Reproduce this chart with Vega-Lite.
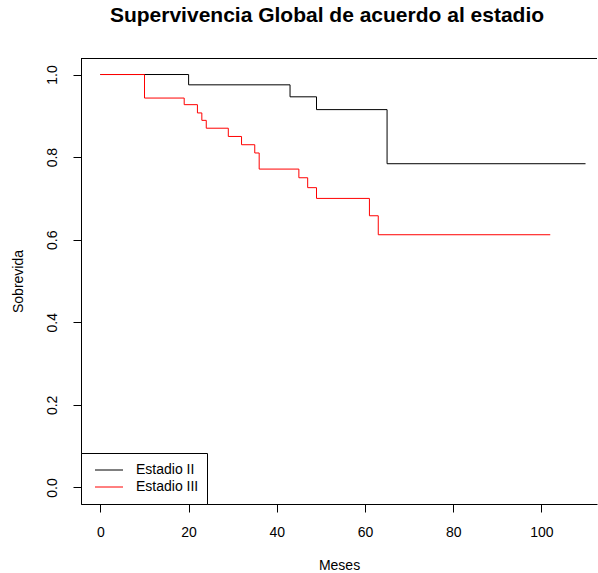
{
  "$schema": "https://vega.github.io/schema/vega-lite/v6.json",
  "autosize": "none",
  "padding": {"left": 81, "top": 58, "right": 1, "bottom": 69},
  "width": 516,
  "height": 446,
  "background": "white",
  "title": {
    "text": "Supervivencia Global de acuerdo al estadio",
    "font": "Liberation Sans",
    "fontSize": 21,
    "fontWeight": "bold",
    "color": "black",
    "anchor": "middle",
    "dx": -12,
    "offset": 32
  },
  "config": {
    "view": {"stroke": null},
    "font": "Liberation Sans",
    "axis": {
      "grid": false,
      "domainColor": "black",
      "domainWidth": 1,
      "tickColor": "black",
      "tickSize": 8,
      "labelColor": "black",
      "labelFont": "Liberation Sans",
      "labelFontSize": 14,
      "titleFont": "Liberation Sans",
      "titleFontSize": 14,
      "titleFontWeight": "normal",
      "titleColor": "black"
    }
  },
  "data": {
    "values": [
      {"mes": 0, "sobrevida": 1.0, "estadio": "Estadio II"},
      {"mes": 20, "sobrevida": 0.975, "estadio": "Estadio II"},
      {"mes": 43, "sobrevida": 0.946, "estadio": "Estadio II"},
      {"mes": 49, "sobrevida": 0.915, "estadio": "Estadio II"},
      {"mes": 65, "sobrevida": 0.784, "estadio": "Estadio II"},
      {"mes": 110, "sobrevida": 0.784, "estadio": "Estadio II"},
      {"mes": 0, "sobrevida": 1.0, "estadio": "Estadio III"},
      {"mes": 10, "sobrevida": 0.943, "estadio": "Estadio III"},
      {"mes": 19, "sobrevida": 0.927, "estadio": "Estadio III"},
      {"mes": 22, "sobrevida": 0.907, "estadio": "Estadio III"},
      {"mes": 23, "sobrevida": 0.889, "estadio": "Estadio III"},
      {"mes": 24, "sobrevida": 0.870, "estadio": "Estadio III"},
      {"mes": 29, "sobrevida": 0.850, "estadio": "Estadio III"},
      {"mes": 32, "sobrevida": 0.830, "estadio": "Estadio III"},
      {"mes": 35, "sobrevida": 0.810, "estadio": "Estadio III"},
      {"mes": 36, "sobrevida": 0.771, "estadio": "Estadio III"},
      {"mes": 45, "sobrevida": 0.750, "estadio": "Estadio III"},
      {"mes": 47, "sobrevida": 0.726, "estadio": "Estadio III"},
      {"mes": 49, "sobrevida": 0.700, "estadio": "Estadio III"},
      {"mes": 61, "sobrevida": 0.658, "estadio": "Estadio III"},
      {"mes": 63, "sobrevida": 0.612, "estadio": "Estadio III"},
      {"mes": 102, "sobrevida": 0.612, "estadio": "Estadio III"}
    ]
  },
  "layer": [
    {
      "mark": {"type": "line", "interpolate": "step-after", "strokeWidth": 1},
      "encoding": {
        "x": {
          "field": "mes",
          "type": "quantitative",
          "title": "Meses",
          "scale": {"domain": [-4.4, 112.6], "nice": false, "zero": false},
          "axis": {"values": [0, 20, 40, 60, 80, 100], "labelPadding": 13, "titlePadding": 19}
        },
        "y": {
          "field": "sobrevida",
          "type": "quantitative",
          "title": "Sobrevida",
          "scale": {"domain": [-0.04, 1.04], "nice": false, "zero": false},
          "axis": {"values": [0, 0.2, 0.4, 0.6, 0.8, 1.0], "format": ".1f", "labelAngle": 270, "labelPadding": 14, "titlePadding": 20}
        },
        "color": {
          "field": "estadio",
          "type": "nominal",
          "scale": {"domain": ["Estadio II", "Estadio III"], "range": ["black", "red"]},
          "legend": {
            "title": null,
            "orient": "bottom-left",
            "offset": 0,
            "padding": 8.5,
            "strokeColor": "black",
            "fillColor": "white",
            "symbolType": "stroke",
            "symbolSize": 784,
            "symbolStrokeWidth": 1,
            "symbolOffset": 5,
            "clipHeight": 17,
            "labelFont": "Liberation Sans",
            "labelFontSize": 14,
            "labelColor": "black",
            "labelOffset": 12.5,
            "rowPadding": 0
          }
        }
      }
    },
    {
      "mark": {"type": "rule", "color": "black", "strokeWidth": 1, "yOffset": 0.5},
      "encoding": {"y": {"datum": 1.04}}
    }
  ]
}
